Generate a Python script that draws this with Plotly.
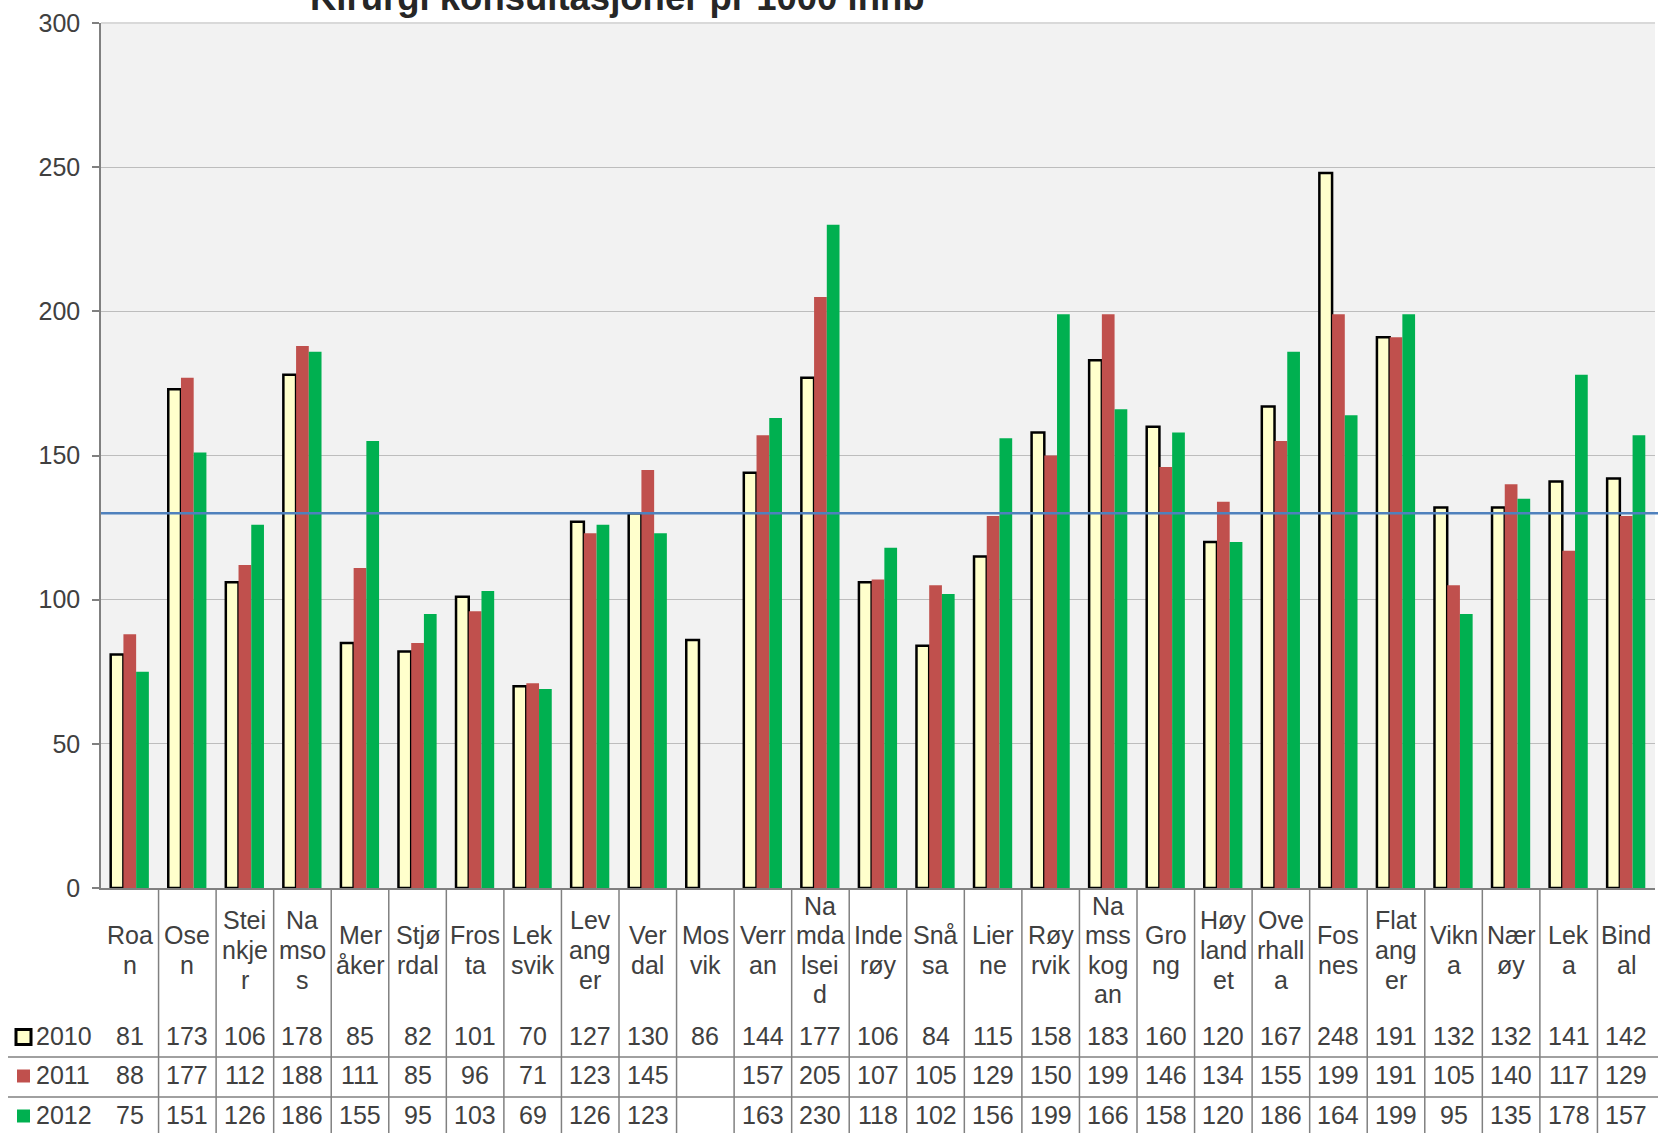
import plotly.graph_objects as go

# ---------------- data ----------------
title_text = "Kirurgi konsultasjoner pr 1000 innb"
categories = ["Roan", "Osen", "Steinkjer", "Namsos", "Meråker", "Stjørdal", "Frosta",
              "Leksvik", "Levanger", "Verdal", "Mosvik", "Verran", "Namdalseid",
              "Inderøy", "Snåsa", "Lierne", "Røyrvik", "Namsskogan", "Grong",
              "Høylandet", "Overhalla", "Fosnes", "Flatanger", "Vikna", "Nærøy",
              "Leka", "Bindal"]
category_labels = ["Roa<br>n", "Ose<br>n", "Stei<br>nkje<br>r", "Na<br>mso<br>s", "Mer<br>åker",
                   "Stjø<br>rdal", "Fros<br>ta", "Lek<br>svik", "Lev<br>ang<br>er", "Ver<br>dal",
                   "Mos<br>vik", "Verr<br>an", "Na<br>mda<br>lsei<br>d", "Inde<br>røy", "Snå<br>sa",
                   "Lier<br>ne", "Røy<br>rvik", "Na<br>mss<br>kog<br>an", "Gro<br>ng",
                   "Høy<br>land<br>et", "Ove<br>rhall<br>a", "Fos<br>nes", "Flat<br>ang<br>er",
                   "Vikn<br>a", "Nær<br>øy", "Lek<br>a", "Bind<br>al"]
series_names = ["2010", "2011", "2012"]
v2010 = [81, 173, 106, 178, 85, 82, 101, 70, 127, 130, 86, 144, 177, 106, 84, 115, 158,
         183, 160, 120, 167, 248, 191, 132, 132, 141, 142]
v2011 = [88, 177, 112, 188, 111, 85, 96, 71, 123, 145, None, 157, 205, 107, 105, 129, 150,
         199, 146, 134, 155, 199, 191, 105, 140, 117, 129]
v2012 = [75, 151, 126, 186, 155, 95, 103, 69, 126, 123, None, 163, 230, 118, 102, 156, 199,
         166, 158, 120, 186, 164, 199, 95, 135, 178, 157]
reference_value = 130
y_ticks = [0, 50, 100, 150, 200, 250, 300]

# ---------------- layout geometry ----------------
W, H = 1658, 1133
L, R, T, B = 101, 3, 23, 245
PW, PH = W - L - R, H - T - B
Y0 = H - B  # pixel of y=0


def px_x(px):
    return (px - L) / PW


def px_y(py):
    return (Y0 - py) / PH


FONT = "Liberation Sans, Arial, sans-serif"
TXT = "#404040"
GRIDC = "#808080"

series_values = [v2010, v2011, v2012]
fills = ["#FFFFCC", "#C0504D", "#00B050"]
outlines = ["#000000", "#C0504D", "#00B050"]
outline_w = [2.5, 0, 0]

xs = list(range(len(categories)))
fig = go.Figure()
for name, vals, fc, lc, lw in zip(series_names, series_values, fills, outlines, outline_w):
    fig.add_trace(go.Bar(x=xs, y=vals, name=name, marker=dict(color=fc, line=dict(color=lc, width=lw)),
                         showlegend=False, hovertext=categories))

shapes = []
annotations = []

# top border of plot area
shapes.append(dict(type="line", xref="paper", yref="paper", x0=0, x1=1, y0=1, y1=1,
                   line=dict(color="#D9D9D9", width=2), layer="above"))
# reference line
shapes.append(dict(type="line", xref="paper", yref="paper", x0=0, x1=px_x(W),
                   y0=reference_value / y_ticks[-1], y1=reference_value / y_ticks[-1],
                   line=dict(color="#4F81BD", width=2.5), layer="above"))

# table vertical separators
for i in range(len(categories) - 1):
    shapes.append(dict(type="line", xref="x", yref="paper", x0=i + 0.5, x1=i + 0.5,
                       y0=0, y1=px_y(H), line=dict(color=GRIDC, width=1.5)))

row_centers = [1036, 1075, 1115]
# table horizontal separators
for yb in [1057, 1097]:
    shapes.append(dict(type="line", xref="paper", yref="paper", x0=px_x(8), x1=px_x(W),
                       y0=px_y(yb), y1=px_y(yb), line=dict(color=GRIDC, width=1.5)))

# category labels, split into lines with Excel-like spacing
line_gap = 29.6
label_center = 950
for i, lab in enumerate(category_labels):
    parts = lab.split("<br>")
    n = len(parts)
    for k, p in enumerate(parts):
        yc = label_center + (k - (n - 1) / 2) * line_gap
        annotations.append(dict(x=i, xref="x", y=px_y(yc), yref="paper", text=p, showarrow=False,
                                xanchor="center", yanchor="middle",
                                font=dict(size=25, color=TXT, family=FONT)))

# data table values
for r, (name, vals) in enumerate(zip(series_names, series_values)):
    yc = px_y(row_centers[r])
    for i, v in enumerate(vals):
        if v is None:
            continue
        annotations.append(dict(x=i, xref="x", y=yc, yref="paper", text=str(v), showarrow=False,
                                xanchor="center", yanchor="middle",
                                font=dict(size=25, color=TXT, family=FONT)))
    annotations.append(dict(x=px_x(34), xref="paper", y=yc, yref="paper", text=name, showarrow=False,
                            xanchor="left", yanchor="middle",
                            font=dict(size=25, color=TXT, family=FONT)))

# legend keys in row headers
key_sizes = [15, 13, 13]
for r in range(3):
    half = key_sizes[r] / 2
    cx = 23.5
    cy = row_centers[r] + 1
    shapes.append(dict(type="rect", xref="paper", yref="paper",
                       x0=px_x(cx - half), x1=px_x(cx + half),
                       y0=px_y(cy + half), y1=px_y(cy - half),
                       fillcolor=fills[r], line=dict(color=outlines[r], width=outline_w[r] + 0.5 if r == 0 else 0)))

# title (partly cut off at the top, as in the reference)
annotations.append(dict(x=px_x(617), xref="paper", y=1.0 + 3 / PH, yref="paper", text="<b>" + title_text + "</b>",
                        showarrow=False, xanchor="center", yanchor="bottom",
                        font=dict(size=36.5, color="#262626", family=FONT)))

fig.update_layout(
    width=W, height=H,
    margin=dict(l=L, r=R, t=T, b=B, pad=0),
    paper_bgcolor="white", plot_bgcolor="#F2F2F2",
    barmode="group", bargap=0.337, bargroupgap=0,
    font=dict(family=FONT, color=TXT),
    shapes=shapes, annotations=annotations,
    showlegend=False,
)
fig.update_xaxes(range=[-0.5, len(categories) - 0.5], showticklabels=False, showgrid=False,
                 zeroline=False, showline=True, linecolor=GRIDC, linewidth=1.5, ticks="")
fig.update_yaxes(range=[y_ticks[0], y_ticks[-1]], tickvals=y_ticks, showgrid=True, gridcolor="#BDBDBD",
                 gridwidth=1, zeroline=False, showline=True, linecolor=GRIDC, linewidth=1.5,
                 ticks="outside", ticklen=7, tickcolor=GRIDC, tickwidth=1.5,
                 tickfont=dict(size=25, color=TXT, family=FONT), ticklabelstandoff=7)

fig.write_html("out.html", config={"displayModeBar": False},
               post_script="document.body.style.margin='0';document.body.style.overflow='hidden';")
